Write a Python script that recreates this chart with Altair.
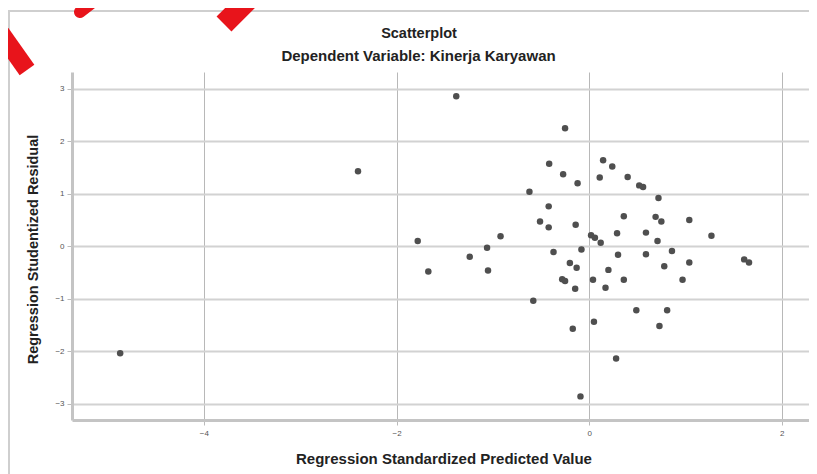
import altair as alt
import pandas as pd

pred = [-4.87, -2.40, -1.38, -1.78, -1.67, -1.24, -1.06, -1.05, -0.92, -0.25,
        -0.415, -0.27, -0.12, -0.62, 0.145, 0.24, 0.11, 0.40, 0.52, 0.56,
        0.72, -0.42, -0.51, -0.42, -0.14, 0.36, 0.69, 0.75, 1.04, 0.02,
        0.06, 0.12, 0.29, 0.59, 0.71, 1.27, -0.37, -0.08, 0.30, 0.59,
        0.86, 1.61, 1.66, -0.20, -0.13, 0.20, 0.78, 1.04, -0.28, -0.25,
        0.04, 0.36, -0.145, 0.17, 0.97, -0.58, 0.49, 0.81, 0.05, -0.17,
        0.73, 0.28, -0.09]
resid = [-2.04, 1.43, 2.86, 0.10, -0.48, -0.20, -0.03, -0.46, 0.19, 2.25,
         1.57, 1.37, 1.20, 1.04, 1.64, 1.52, 1.31, 1.32, 1.16, 1.13,
         0.92, 0.76, 0.47, 0.36, 0.41, 0.57, 0.56, 0.47, 0.50, 0.21,
         0.16, 0.065, 0.25, 0.26, 0.10, 0.20, -0.11, -0.06, -0.16, -0.15,
         -0.09, -0.25, -0.31, -0.32, -0.41, -0.45, -0.38, -0.31, -0.63, -0.66,
         -0.64, -0.64, -0.81, -0.79, -0.64, -1.04, -1.22, -1.22, -1.44, -1.57,
         -1.52, -2.14, -2.86]

x_ticks = [-4, -2, 0, 2]
y_ticks = [-3, -2, -1, 0, 1, 2, 3]

title_text = "Scatterplot"
subtitle_text = "Dependent Variable: Kinerja Karyawan"
x_title = "Regression Standardized Predicted Value"
y_title = "Regression Studentized Residual"

df = pd.DataFrame({"pred": pred, "resid": resid})

FONT = "Liberation Sans"
W, H = 737, 348

points = alt.Chart(df).mark_circle(size=42, color="#4f4f4f", opacity=1).encode(
    x=alt.X("pred:Q",
            scale=alt.Scale(domain=[-5.37, 2.283], nice=False, zero=False),
            axis=alt.Axis(values=x_ticks, title=x_title,
                          grid=True, gridColor="#b8b8b8", gridWidth=1,
                          domainColor="#c4c4c4", domainWidth=3,
                          tickColor="#bbbbbb", tickSize=5,
                          labelFont=FONT, labelFontSize=8, labelColor="#555",
                          labelPadding=4,
                          titleFont=FONT, titleFontSize=15, titleFontWeight="bold",
                          titleColor="#222", titleX=371.5, titleY=38,
                          titleAlign="center", titleBaseline="middle")),
    y=alt.Y("resid:Q",
            scale=alt.Scale(domain=[-3.31, 3.32], nice=False, zero=False),
            axis=alt.Axis(values=y_ticks, title=y_title,
                          grid=True, gridColor="#d2d2d2", gridWidth=2,
                          domainColor="#c4c4c4", domainWidth=3,
                          tickColor="#bbbbbb", tickSize=5,
                          labelFont=FONT, labelFontSize=8, labelColor="#555",
                          labelPadding=3,
                          titleFont=FONT, titleFontSize=14.5, titleFontWeight="bold",
                          titleColor="#222", titleX=-39, titleY=H / 2 + 3,
                          titleAngle=-90,
                          titleAlign="center", titleBaseline="middle")),
)

one = alt.Data(values=[{}])

frame_left = alt.Chart(one).mark_rule(color="#cfcfcf", strokeWidth=2).encode(
    x=alt.value(-63), y=alt.value(-61), y2=alt.value(410))
frame_top = alt.Chart(one).mark_rule(color="#cfcfcf", strokeWidth=2).encode(
    x=alt.value(-64), x2=alt.value(760), y=alt.value(-61))

stripe_a = alt.Chart(one).mark_rule(color="#e8141b", strokeWidth=18).encode(
    x=alt.value(-76), x2=alt.value(-45), y=alt.value(-46), y2=alt.value(-2))
stripe_b = alt.Chart(one).mark_rule(color="#e8141b", strokeWidth=12, strokeCap="round").encode(
    x=alt.value(8), x2=alt.value(30), y=alt.value(-60), y2=alt.value(-77))
stripe_c = alt.Chart(one).mark_rule(color="#e8141b", strokeWidth=21).encode(
    x=alt.value(152), x2=alt.value(182), y=alt.value(-48), y2=alt.value(-78))

title_mark = alt.Chart(one).mark_text(
    font=FONT, fontSize=14.5, fontWeight="bold", color="#222",
    align="center", baseline="middle").encode(
    x=alt.value(347), y=alt.value(-38), text=alt.value(title_text))
subtitle_mark = alt.Chart(one).mark_text(
    font=FONT, fontSize=15, fontWeight="bold", color="#222",
    align="center", baseline="middle").encode(
    x=alt.value(346.5), y=alt.value(-16), text=alt.value(subtitle_text))

chart = alt.layer(frame_left, frame_top, stripe_a, stripe_b, stripe_c,
                  title_mark, subtitle_mark, points).properties(
    width=W, height=H,
    autosize=alt.AutoSizeParams(type="none"),
    padding={"left": 64, "top": 64, "right": 0, "bottom": 54},
    background="white",
).configure_view(stroke=None)

chart.save("out.html", embed_options={"renderer": "svg", "actions": False})
